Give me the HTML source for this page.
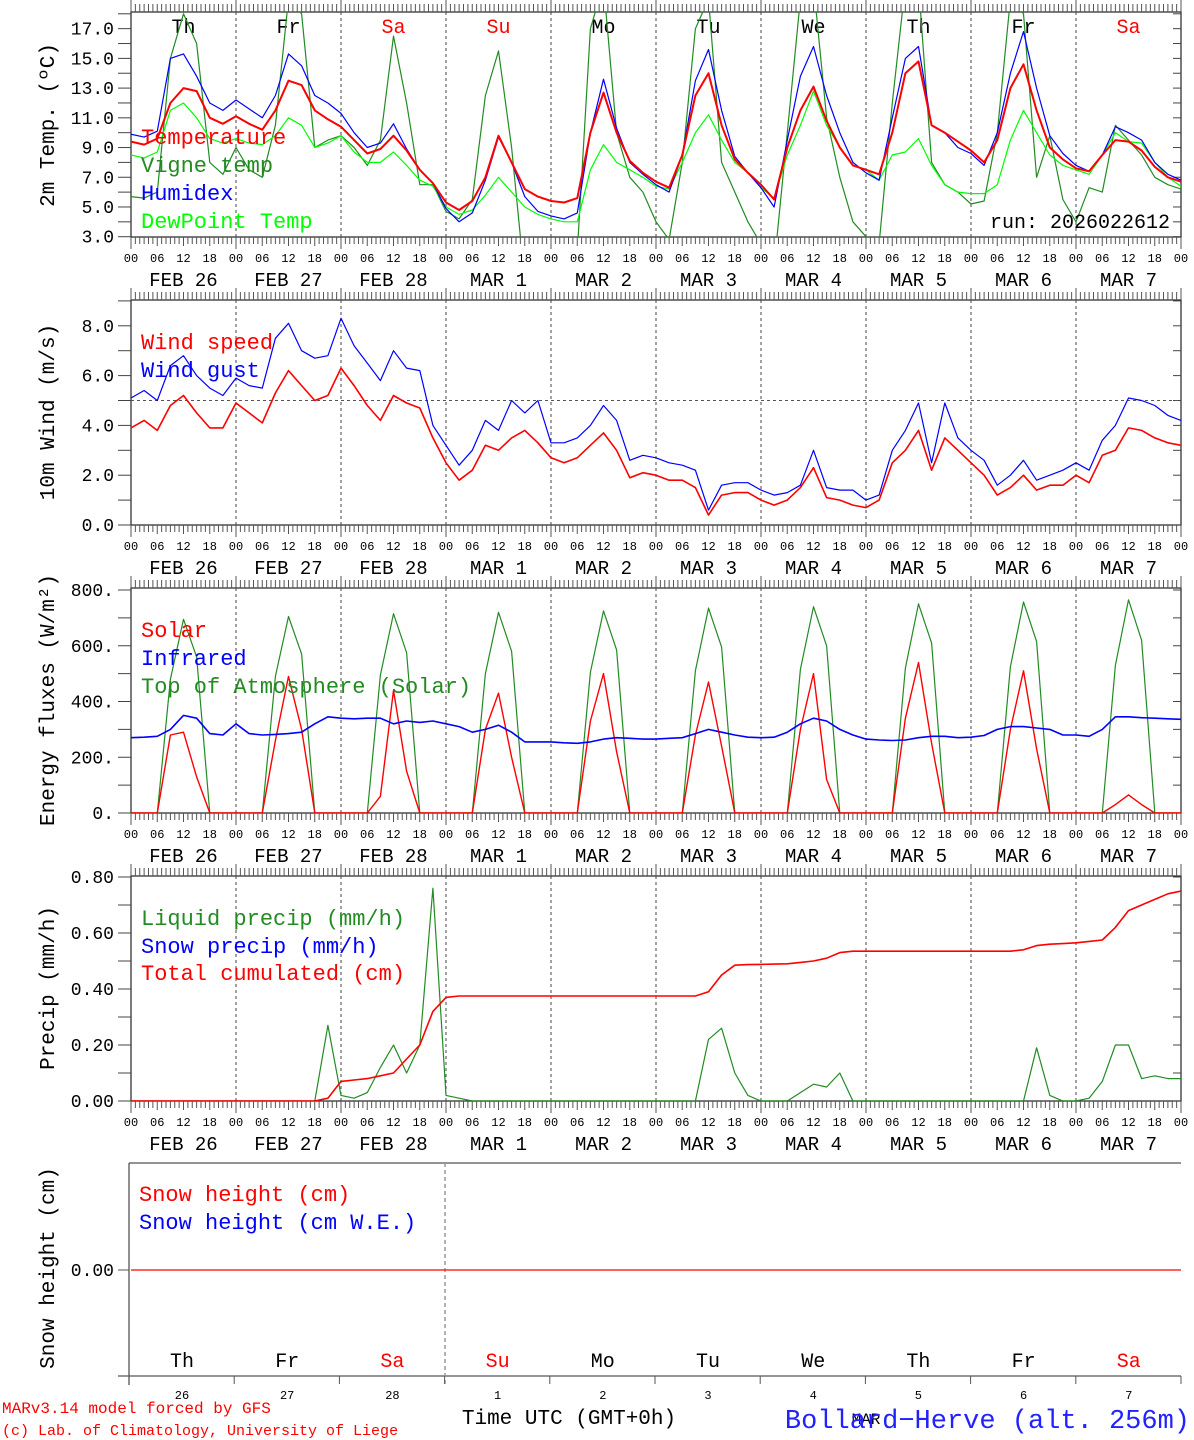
<!DOCTYPE html>
<html><head><meta charset="utf-8"><style>
html,body{margin:0;padding:0;background:#fff;}
svg{display:block;font-family:"Liberation Mono",monospace;}
</style></head><body>
<svg id="chart" width="1194" height="1440" viewBox="0 0 1194 1440" xmlns="http://www.w3.org/2000/svg">
<defs>
<clipPath id="c1"><rect x="131" y="12" width="1050" height="225"/></clipPath>
<clipPath id="c3"><rect x="131" y="588" width="1050" height="225"/></clipPath>
<clipPath id="c4"><rect x="131" y="876" width="1050" height="225"/></clipPath>
</defs>
<g id="grid"></g>
<g id="marks"></g>
<g id="labels" font-size="22">
<text x="141" y="144" fill="#f00">Temperature</text>
<text x="141" y="172" fill="#228b22">Vigne temp</text>
<text x="141" y="200" fill="#00f">Humidex</text>
<text x="141" y="228" fill="#0f0">DewPoint Temp</text>
<text x="1170" y="228" text-anchor="end" font-size="20" fill="#000">run: 2026022612</text>
<text x="141" y="349" fill="#f00">Wind speed</text>
<text x="141" y="377" fill="#00f">Wind gust</text>
<text x="141" y="637" fill="#f00">Solar</text>
<text x="141" y="665" fill="#00f">Infrared</text>
<text x="141" y="693" fill="#228b22">Top of Atmosphere (Solar)</text>
<text x="141" y="925" fill="#228b22">Liquid precip (mm/h)</text>
<text x="141" y="953" fill="#00f">Snow precip (mm/h)</text>
<text x="141" y="980" fill="#f00">Total cumulated (cm)</text>
<text x="139" y="1201" fill="#f00">Snow height (cm)</text>
<text x="139" y="1229" fill="#00f">Snow height (cm W.E.)</text>
<text transform="translate(54,125) rotate(-90)" text-anchor="middle" font-size="21">2m Temp. (ºC)</text>
<text transform="translate(54,412) rotate(-90)" text-anchor="middle" font-size="21">10m Wind (m/s)</text>
<text transform="translate(54,700) rotate(-90)" text-anchor="middle" font-size="21">Energy fluxes (W/m²)</text>
<text transform="translate(54,988) rotate(-90)" text-anchor="middle" font-size="21">Precip (mm/h)</text>
<text transform="translate(54,1268) rotate(-90)" text-anchor="middle" font-size="21">Snow height (cm)</text>
<text x="2" y="1413" font-size="16" fill="#f00">MARv3.14 model forced by GFS</text>
<text x="2" y="1435" font-size="15" fill="#f00">(c) Lab. of Climatology, University of Liege</text>
<text x="569" y="1424" text-anchor="middle" font-size="21">Time UTC (GMT+0h)</text>
<text x="866" y="1424" text-anchor="middle" font-size="16">MAR</text>
<text x="1190" y="1428" text-anchor="end" font-size="27" fill="#22f">Bollard−Herve (alt. 256m)</text>
</g>
</svg>
<script>
const dayNames=["Th","Fr","Sa","Su","Mo","Tu","We","Th","Fr","Sa"];
const dayNums=["26","27","28","1","2","3","4","5","6","7"];
const dateLabels=["FEB 26","FEB 27","FEB 28","MAR  1","MAR  2","MAR  3","MAR  4","MAR  5","MAR  6","MAR  7"];
const hourLabels=["00","06","12","18"];
const temperature=[9.4,9.2,9.6,12.0,13.0,12.8,11.0,10.6,11.1,10.6,10.2,11.5,13.5,13.2,11.5,10.9,10.4,9.5,8.6,8.9,9.8,8.8,7.5,6.6,5.3,4.8,5.4,7.0,9.8,8.0,6.2,5.7,5.4,5.3,5.6,10.0,12.7,10.0,8.1,7.3,6.7,6.3,8.5,12.5,14.0,10.5,8.2,7.3,6.5,5.5,9.0,11.5,13.1,10.8,9.0,7.8,7.5,7.2,10.0,14.0,14.8,10.5,10.0,9.4,8.8,8.0,9.5,13.0,14.6,11.5,9.0,8.2,7.6,7.4,8.5,9.5,9.4,8.8,7.7,7.0,6.7];
const humidex=[9.9,9.7,10.1,15.0,15.3,13.8,12.0,11.5,12.2,11.6,11.0,12.5,15.3,14.5,12.5,12.0,11.3,10.0,9.0,9.3,10.6,8.9,7.5,6.6,4.9,4.0,4.6,6.8,9.7,8.0,5.7,4.7,4.4,4.2,4.6,10.0,13.6,10.3,8.0,7.2,6.5,6.0,8.5,13.5,15.6,11.5,8.4,7.3,6.3,5.0,9.5,13.8,15.8,12.5,10.0,8.0,7.3,6.8,11.0,15.0,15.8,10.5,10.0,9.0,8.6,7.8,10.0,14.0,16.8,13.0,9.8,8.6,7.8,7.4,8.5,10.4,10.0,9.5,8.0,7.2,6.8];
const dewpoint=[8.5,8.3,8.7,11.5,12.0,11.0,9.6,9.3,9.6,9.3,9.2,9.8,11.0,10.5,9.0,9.3,9.8,8.7,8.0,8.0,8.7,7.8,6.8,6.4,5.0,4.5,4.8,5.8,7.0,6.0,5.0,4.5,4.2,4.0,4.0,7.5,9.2,8.0,7.5,7.0,6.4,6.2,8.0,10.0,11.2,9.5,8.0,7.3,6.3,5.6,8.5,10.5,12.8,10.5,9.0,7.8,7.5,6.8,8.5,8.7,9.6,7.8,6.5,6.0,5.9,5.9,6.5,9.5,11.5,10.0,8.5,7.8,7.5,7.2,8.5,10.0,9.4,9.3,8.0,7.0,6.4];
const vigneTemp=[5.7,5.6,6.0,15.0,18.0,16.0,8.0,7.2,9.0,7.5,7.0,10.5,19,18,9.0,9.5,9.8,9.0,7.8,9.5,16.5,12,6.5,6.5,4.7,4.2,5.5,12.5,15.5,9,0,0,0,0,2,17,20,10,7,6,4,2.8,8,17,19,8,6,4,2.5,1,10,19,20,11,7,4,3,2.5,12,20,20,8,6.5,6,5.2,5.4,10,19,18,7,9.8,5.5,4,6.3,6,10.5,9.5,8.5,7,6.5,6.2];
const windSpeed=[3.9,4.2,3.8,4.8,5.2,4.5,3.9,3.9,4.9,4.5,4.1,5.3,6.2,5.6,5.0,5.2,6.3,5.6,4.8,4.2,5.2,4.9,4.7,3.5,2.5,1.8,2.2,3.2,3.0,3.5,3.8,3.3,2.7,2.5,2.7,3.2,3.7,3.0,1.9,2.1,2.0,1.8,1.8,1.5,0.4,1.2,1.3,1.3,1.0,0.8,1.0,1.5,2.3,1.1,1.0,0.8,0.7,1.0,2.5,3.0,3.8,2.2,3.5,3.0,2.5,2.0,1.2,1.5,2.0,1.4,1.6,1.6,2.0,1.7,2.8,3.0,3.9,3.8,3.5,3.3,3.2];
const windGust=[5.1,5.4,5.0,6.4,6.8,6.0,5.5,5.2,5.9,5.6,5.5,7.5,8.1,7.0,6.7,6.8,8.3,7.2,6.5,5.8,7.0,6.3,6.2,4.0,3.2,2.4,3.0,4.2,3.8,5.0,4.5,5.0,3.3,3.3,3.5,4.0,4.8,4.2,2.6,2.8,2.7,2.5,2.4,2.2,0.6,1.6,1.7,1.7,1.4,1.2,1.3,1.6,3.0,1.5,1.4,1.4,1.0,1.2,3.0,3.8,4.9,2.5,4.9,3.5,3.0,2.6,1.6,2.0,2.6,1.8,2.0,2.2,2.5,2.2,3.4,4.0,5.1,5.0,4.8,4.4,4.2];
const solar=[0,0,0,280,290,130,0,0,0,0,0,260,490,300,0,0,0,0,0,60,440,150,0,0,0,0,0,300,430,200,0,0,0,0,0,330,500,220,0,0,0,0,0,280,470,240,0,0,0,0,0,300,500,120,0,0,0,0,0,340,540,250,0,0,0,0,0,300,510,230,0,0,0,0,0,30,65,30,0,0,0];
const toaSolar=[0,0,0,480,695,560,0,0,0,0,0,490,705,570,0,0,0,0,0,495,715,575,0,0,0,0,0,500,720,580,0,0,0,0,0,505,725,585,0,0,0,0,0,510,735,595,0,0,0,0,0,515,740,600,0,0,0,0,0,520,750,610,0,0,0,0,0,525,757,615,0,0,0,0,0,530,765,620,0,0,0];
const infrared=[270,272,275,300,350,340,285,280,320,285,280,282,285,290,320,345,340,338,340,340,320,330,325,330,320,310,290,300,315,290,255,255,255,252,250,255,265,270,268,265,265,268,270,285,300,290,280,272,270,272,290,320,340,330,300,280,265,262,260,262,270,275,275,270,272,278,300,310,310,305,300,280,280,275,300,345,345,342,340,338,336];
const liquidPrecip=[0,0,0,0,0,0,0,0,0,0,0,0,0,0,0,0.27,0.02,0.01,0.03,0.12,0.2,0.1,0.2,0.76,0.02,0.01,0,0,0,0,0,0,0,0,0,0,0,0,0,0,0,0,0,0,0.22,0.26,0.1,0.02,0,0,0,0.03,0.06,0.05,0.1,0,0,0,0,0,0,0,0,0,0,0,0,0,0,0.19,0.02,0,0,0.01,0.07,0.2,0.2,0.08,0.09,0.08,0.08];
const totalCumulated=[0,0,0,0,0,0,0,0,0,0,0,0,0,0,0,0.01,0.07,0.075,0.08,0.09,0.1,0.15,0.2,0.32,0.37,0.375,0.375,0.375,0.375,0.375,0.375,0.375,0.375,0.375,0.375,0.375,0.375,0.375,0.375,0.375,0.375,0.375,0.375,0.375,0.39,0.45,0.485,0.487,0.488,0.489,0.49,0.495,0.5,0.51,0.53,0.535,0.535,0.535,0.535,0.535,0.535,0.535,0.535,0.535,0.535,0.535,0.535,0.535,0.54,0.555,0.56,0.562,0.565,0.57,0.575,0.62,0.68,0.70,0.72,0.74,0.75];
const snowHeight=[0,0];

const NS="http://www.w3.org/2000/svg";
const X0=131,X1=1181,DW=105;
const xOf=h=>X0+h*DW/24;
const xIdx=i=>xOf(i*3);
const grid=document.getElementById('grid'),marks=document.getElementById('marks');
function mk(tag,parent,attrs){const e=document.createElementNS(NS,tag);for(const k in attrs)e.setAttribute(k,attrs[k]);parent.appendChild(e);return e;}
const panels=[
 {top:12,bot:237,y:v=>236.7-(v-3)*14.86,ticks:[3,4,5,6,7,8,9,10,11,12,13,14,15,16,17,18],lab:[3,5,7,9,11,13,15,17],fmt:v=>v.toFixed(1),name:'temp'},
 {top:300,bot:525,y:v=>525-v*24.9,ticks:[0,1,2,3,4,5,6,7,8,9],lab:[0,2,4,6,8],fmt:v=>v.toFixed(1),name:'wind'},
 {top:588,bot:813,y:v=>813-v*0.27875,ticks:[0,100,200,300,400,500,600,700,800],lab:[0,200,400,600,800],fmt:v=>v+'.',name:'energy'},
 {top:876,bot:1101,y:v=>1101-v*280,ticks:[0,0.1,0.2,0.3,0.4,0.5,0.6,0.7,0.8],lab:[0,0.2,0.4,0.6,0.8],fmt:v=>v.toFixed(2),name:'precip'}
];
panels.forEach((p,pi)=>{
 const fr=mk('rect',grid,{x:X0,y:p.top,width:X1-X0,height:p.bot-p.top,fill:'none',stroke:'#333','stroke-width':1.3});
 
 
 for(let d=1;d<10;d++){
  const l=mk('line',grid,{x1:xOf(d*24),x2:xOf(d*24),y1:p.top,y2:p.bot,stroke:'#444','stroke-dasharray':'3,3'});
  
  
 }
 for(let h=0;h<=240;h++){
  const big=h%24==0, six=h%6==0;
  const t=mk('line',grid,{x1:xOf(h),x2:xOf(h),y1:p.top,y2:p.top-(big?12:8),stroke:'#555'});
  
  
  const b=mk('line',grid,{x1:xOf(h),x2:xOf(h),y1:p.bot,y2:p.bot+(big?12:six?9:7),stroke:'#555'});
  
  
 }
 p.ticks.forEach(v=>{
  const t=mk('line',grid,{x1:118,x2:X0,y1:p.y(v),y2:p.y(v),stroke:'#444'});
  
  
  const r=mk('line',grid,{x1:X1-8,x2:X1,y1:p.y(v),y2:p.y(v),stroke:'#444'});
  
  
 });
 p.lab.forEach(v=>{
  const t=mk('text',grid,{x:114,y:p.y(v)+6,'text-anchor':'end','font-size':18});
  t.textContent=p.fmt(v);
  
  
 });
 for(let h=0;h<=240;h+=6){
  const t=mk('text',grid,{x:xOf(h),y:p.bot+25,'text-anchor':'middle','font-size':12});
  t.textContent=hourLabels[(h/6)%4];
  
  
 }
 dateLabels.forEach((s,d)=>{
  const t=mk('text',grid,{x:xOf(d*24+12),y:p.bot+49,'text-anchor':'middle','font-size':19,'xml:space':'preserve'});
  t.textContent=s;
  
  
 });
});
dayNames.forEach((s,d)=>{
 const t=mk('text',grid,{x:xOf(d*24+12),y:33,'text-anchor':'middle','font-size':20,fill:(s=='Sa'||s=='Su')?'#f00':'#000'});
 t.textContent=s;
 
 
});
// dashed 5 m/s line
const ref=mk('line',grid,{x1:X0,x2:X1,y1:panels[1].y(5),y2:panels[1].y(5),stroke:'#555','stroke-dasharray':'3,3'});



function series(arr,p,color,w,name,clip){
 const pts=arr.map((v,i)=>xIdx(i).toFixed(1)+','+p.y(v).toFixed(1)).join(' ');
 const e=mk('polyline',marks,{points:pts,fill:'none',stroke:color,'stroke-width':w,'stroke-linejoin':'round'});
 if(clip)e.setAttribute('clip-path','url(#'+clip+')');
 
 
}
const P=panels;
series(vigneTemp,P[0],'#228b22',1.2,'vigne-temp-line','c1');
series(dewpoint,P[0],'#0f0',1.2,'dewpoint-line','c1');
series(humidex,P[0],'#00f',1.2,'humidex-line','c1');
series(temperature,P[0],'#f00',2,'temperature-line','c1');
series(windGust,P[1],'#00f',1.2,'wind-gust-line');
series(windSpeed,P[1],'#f00',1.6,'wind-speed-line');
series(toaSolar,P[2],'#228b22',1.2,'toa-solar-line','c3');
series(solar,P[2],'#f00',1.4,'solar-line','c3');
series(infrared,P[2],'#00f',1.6,'infrared-line','c3');
series(liquidPrecip,P[3],'#228b22',1.2,'liquid-precip-line','c4');
series(totalCumulated,P[3],'#f00',1.6,'total-cumulated-line','c4');

// bottom snow panel
const sp={top:1163,bot:1376,y:v=>1270-v*100};
const sl=mk('line',grid,{x1:129,x2:129,y1:sp.top,y2:1385,stroke:'#555','stroke-width':1.3});


const st=mk('line',grid,{x1:129,x2:X1,y1:sp.top,y2:sp.top,stroke:'#555','stroke-width':1.3});


const sb=mk('line',grid,{x1:118,x2:X1,y1:sp.bot,y2:sp.bot,stroke:'#555','stroke-width':1.3});


const sd=mk('line',grid,{x1:445,x2:445,y1:sp.top,y2:sp.bot+8,stroke:'#999','stroke-dasharray':'4,3','stroke-width':1.5});


for(let d=0;d<=10;d++){
 const t=mk('line',grid,{x1:129+d*105.2,x2:129+d*105.2,y1:sp.bot,y2:sp.bot+8,stroke:'#555'});
 
 
}
const zt=mk('line',grid,{x1:118,x2:129,y1:sp.y(0),y2:sp.y(0),stroke:'#555'});


const zl=mk('text',grid,{x:114,y:sp.y(0)+6,'text-anchor':'end','font-size':18});
zl.textContent='0.00';


const sh=mk('line',marks,{x1:X0,x2:X1,y1:sp.y(snowHeight[0]),y2:sp.y(snowHeight[1]),stroke:'#f00','stroke-width':1.3});


dayNames.forEach((s,d)=>{
 const t=mk('text',grid,{x:129+d*105.2+53,y:1367,'text-anchor':'middle','font-size':20,fill:(s=='Sa'||s=='Su')?'#f00':'#000'});
 t.textContent=s;
 
 
 const n=mk('text',grid,{x:129+d*105.2+53,y:1399,'text-anchor':'middle','font-size':12});
 n.textContent=dayNums[d];
 
 
});
</script>
</body></html>
